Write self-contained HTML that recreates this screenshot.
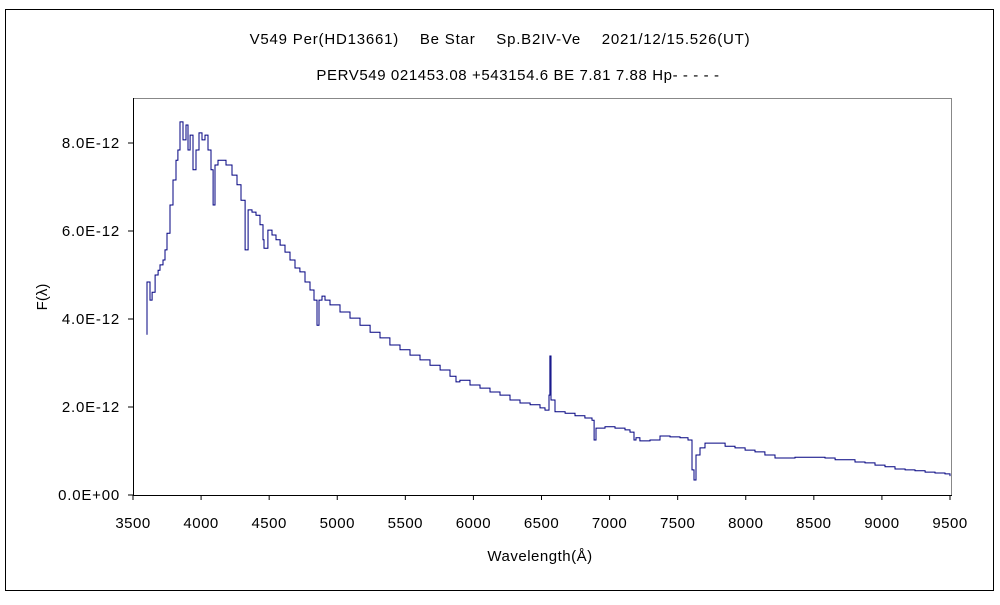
<!DOCTYPE html>
<html><head><meta charset="utf-8"><style>
body{margin:0;background:#fff;font-family:"Liberation Sans","Noto Sans CJK JP",sans-serif;}
svg text{font-family:"Liberation Sans","Noto Sans CJK JP",sans-serif;font-size:15px;fill:#000;}
</style></head><body>
<svg id="chart" width="1000" height="600">
<rect x="5.5" y="9.5" width="988" height="581" fill="#fff" stroke="#000"/>
<text x="500" y="44" text-anchor="middle" style="letter-spacing:0.8px">V549 Per(HD13661)　 Be Star　 Sp.B2IV-Ve　 2021/12/15.526(UT)</text>
<text x="518" y="80" text-anchor="middle" style="letter-spacing:0.6px">PERV549 021453.08 +543154.6 BE 7.81 7.88 Hp- - - - -</text>
<rect x="133.5" y="98.5" width="818" height="397" fill="#fff" stroke="#888"/>
<g id="axes"></g>
<path id="line" fill="none" stroke="#000080" stroke-width="1"/>
<text x="540" y="561" text-anchor="middle" style="letter-spacing:0.5px">Wavelength(Å)</text>
<text transform="translate(47,297) rotate(-90)" text-anchor="middle">F(λ)</text>
</svg>
<script>
const wavelengths=[3603,3603,3625,3640,3662,3684,3698,3720,3735,3750,3772,3794,3816,3830,3845,3867,3889,3904,3919,3941,3963,3985,4007,4029,4051,4073,4088,4102,4124,4154,4183,4227,4264,4293,4323,4345,4374,4403,4433,4455,4462,4491,4521,4550,4580,4616,4653,4690,4726,4763,4800,4829,4851,4866,4888,4910,4947,5020,5094,5167,5241,5314,5387,5461,5534,5608,5681,5755,5828,5872,5901,5975,6048,6122,6195,6269,6342,6416,6489,6526,6555,6562,6570,6599,6673,6746,6819,6871,6886,6900,6966,7040,7113,7150,7179,7194,7223,7297,7370,7444,7517,7576,7605,7620,7635,7664,7701,7774,7848,7921,7995,8068,8141,8215,8288,8362,8435,8509,8582,8656,8729,8802,8876,8949,9023,9096,9170,9243,9317,9390,9463,9500];
const fluxes=[3.64,4.84,4.43,4.61,5.0,5.11,5.23,5.34,5.57,5.95,6.59,7.16,7.61,7.84,8.48,8.07,8.41,7.84,8.18,7.39,7.84,8.23,8.07,8.18,7.84,7.39,6.59,7.5,7.61,7.61,7.5,7.27,7.05,6.7,5.57,6.48,6.43,6.36,6.14,5.8,5.61,6.02,5.91,5.8,5.68,5.52,5.34,5.16,5.07,4.84,4.66,4.43,3.86,4.43,4.52,4.43,4.32,4.16,4.02,3.86,3.7,3.57,3.41,3.3,3.18,3.07,2.95,2.84,2.7,2.57,2.61,2.5,2.43,2.34,2.27,2.16,2.09,2.05,1.98,1.93,2.27,3.16,2.16,1.89,1.86,1.8,1.75,1.7,1.25,1.52,1.55,1.52,1.48,1.43,1.25,1.3,1.23,1.25,1.34,1.32,1.3,1.25,0.57,0.34,0.91,1.07,1.18,1.18,1.11,1.07,1.02,0.98,0.91,0.84,0.84,0.86,0.86,0.86,0.84,0.8,0.8,0.75,0.73,0.68,0.64,0.59,0.57,0.55,0.52,0.5,0.48,0.43];
const xTicks=[3500,4000,4500,5000,5500,6000,6500,7000,7500,8000,8500,9000,9500];
const yTicks=[0,2,4,6,8];
const yTickLabels=["0.0E+00","2.0E-12","4.0E-12","6.0E-12","8.0E-12"];
const X=w=>133+(w-3500)/6000*817;
const Y=f=>495-f*44;
const NS="http://www.w3.org/2000/svg";
const g=document.getElementById('axes');
function mk(t,a,txt){const e=document.createElementNS(NS,t);for(const k in a)e.setAttribute(k,a[k]);if(txt!==undefined)e.textContent=txt;g.appendChild(e);return e;}
xTicks.forEach(w=>{
 const l=mk('line',{x1:X(w),x2:X(w),y1:495,y2:500,stroke:'#000'});
 
 
 const t=mk('text',{x:X(w),y:528,'text-anchor':'middle',style:'letter-spacing:0.5px'},w);
 
 
});
yTicks.forEach((v,i)=>{
 const l=mk('line',{x1:128,x2:133,y1:Y(v),y2:Y(v),stroke:'#000'});
 
 
 const t=mk('text',{x:120,y:Y(v)+5,'text-anchor':'end',style:'letter-spacing:0.8px'},yTickLabels[i]);
 
 
});
const ax=mk('line',{x1:133,x2:952,y1:495.5,y2:495.5,stroke:'#000'});


const ay=mk('line',{x1:133.5,x2:133.5,y1:98,y2:495,stroke:'#000'});


let d='';
for(let i=0;i<wavelengths.length;i++){
 const x=X(wavelengths[i]).toFixed(1),y=Y(fluxes[i]).toFixed(1);
 if(i===0)d+='M'+x+' '+y;else d+=' H'+x+' V'+y;
}
document.getElementById('line').setAttribute('d',d);
</script>
</body></html>
